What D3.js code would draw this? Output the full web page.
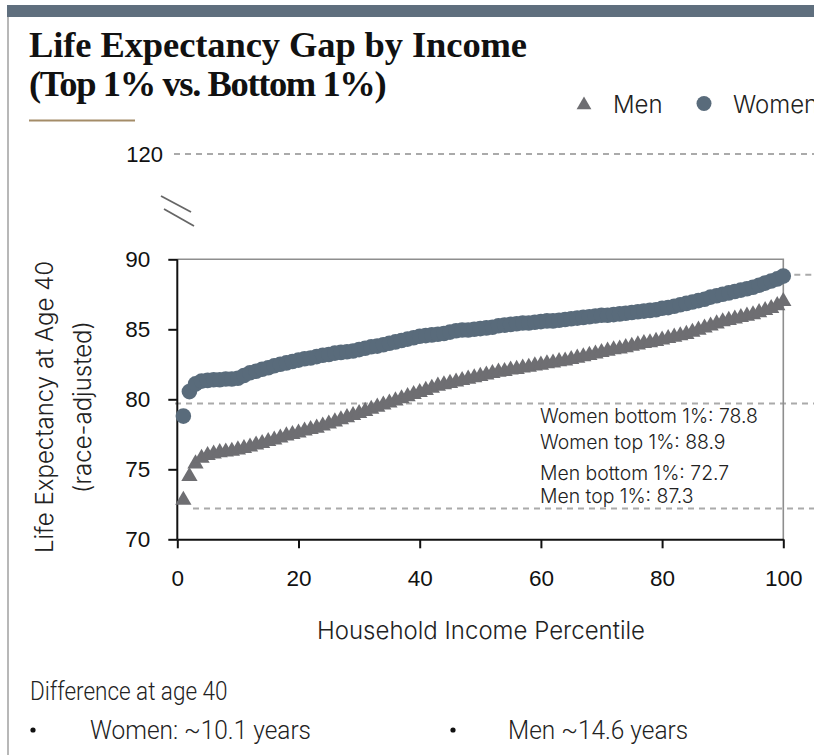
<!DOCTYPE html>
<html>
<head>
<meta charset="utf-8">
<script src="https://cdn.jsdelivr.net/npm/d3@7"></script>
<style>
  body { margin: 0; background: #fff; }
  svg { display: block; }
  .lbl { font-family: Inter, "Liberation Sans", sans-serif; font-weight: 300; fill: #222; }
  .sum { font-family: Roboto, "Liberation Sans", sans-serif; font-weight: 300; fill: #222; }
  .num { font-family: "Liberation Sans", Arial, sans-serif; fill: #111; }
</style>
</head>
<body>
<div id="plot"></div>
<script>
// chart data
const percentiles = d3.range(1, 101);

const women = [
  78.8, 80.55, 81.1, 81.3, 81.35, 81.4, 81.4, 81.45, 81.45, 81.5,
  81.7, 81.9, 82.0, 82.15, 82.25, 82.4, 82.5, 82.6, 82.7, 82.8,
  82.9, 82.95, 83.05, 83.15, 83.2, 83.3, 83.35, 83.4, 83.45, 83.55,
  83.65, 83.75, 83.8, 83.9, 84.0, 84.1, 84.2, 84.3, 84.4, 84.5,
  84.55, 84.6, 84.65, 84.7, 84.8, 84.9, 84.95, 84.95, 85.0, 85.05,
  85.1, 85.15, 85.25, 85.3, 85.35, 85.4, 85.45, 85.45, 85.5, 85.55,
  85.6, 85.6, 85.65, 85.7, 85.75, 85.8, 85.85, 85.9, 85.95, 86.0,
  86.0, 86.05, 86.1, 86.15, 86.2, 86.25, 86.3, 86.35, 86.4, 86.5,
  86.55, 86.65, 86.75, 86.85, 86.95, 87.05, 87.15, 87.3, 87.4, 87.5,
  87.6, 87.7, 87.8, 87.9, 88.0, 88.15, 88.3, 88.45, 88.6, 88.8
];

const men = [
  72.8, 74.5, 75.4, 75.8, 76.0, 76.1, 76.2, 76.25, 76.3, 76.4,
  76.5, 76.6, 76.75, 76.85, 77.0, 77.1, 77.25, 77.4, 77.5, 77.6,
  77.75, 77.85, 77.95, 78.1, 78.25, 78.4, 78.55, 78.7, 78.85, 79.0,
  79.15, 79.3, 79.45, 79.6, 79.75, 79.9, 80.05, 80.2, 80.35, 80.5,
  80.65, 80.8, 80.95, 81.05, 81.15, 81.25, 81.35, 81.45, 81.55, 81.65,
  81.75, 81.85, 81.95, 82.0, 82.1, 82.15, 82.25, 82.3, 82.4, 82.45,
  82.55, 82.6, 82.7, 82.75, 82.85, 82.95, 83.05, 83.15, 83.25, 83.35,
  83.45, 83.55, 83.6, 83.7, 83.8, 83.9, 84.0, 84.05, 84.15, 84.25,
  84.35, 84.45, 84.55, 84.65, 84.8, 84.95, 85.1, 85.25, 85.4, 85.55,
  85.65, 85.75, 85.85, 85.95, 86.05, 86.2, 86.35, 86.5, 86.7, 87.0
];

const yTicks = [70, 75, 80, 85, 90];
const xTicks = [0, 20, 40, 60, 80, 100];
const breakTick = 120;
const refLines = [79.7, 72.2];
const topRef = 88.9;
const notes = ["Women bottom 1%: 78.8", "Women top 1%: 88.9", "Men bottom 1%: 72.7", "Men top 1%: 87.3"];

const W = 814, H = 755;
const pLeft = 177.3, pRight = 783.3, pTop = 259.3, pBottom = 539.3;

const svg = d3.select("#plot").append("svg")
  .attr("width", W).attr("height", H);

svg.append("rect").attr("width", W).attr("height", H).attr("fill", "#fff");

// top bar + left border
svg.append("rect").attr("x", 7).attr("y", 5).attr("width", W - 7).attr("height", 12).attr("fill", "#5f6f7e");
svg.append("line").attr("x1", 8).attr("x2", 8).attr("y1", 17).attr("y2", H)
  .attr("stroke", "#b8b8b8").attr("stroke-width", 2);

// title
const title = svg.append("text")
  .attr("font-family", "'Liberation Serif', 'Times New Roman', serif")
  .attr("font-weight", "bold").attr("font-size", 36.5).attr("fill", "#111");
title.append("tspan").attr("x", 29).attr("y", 57).attr("letter-spacing", -0.1).text("Life Expectancy Gap by Income");
title.append("tspan").attr("x", 29).attr("y", 96).attr("letter-spacing", -1.4).text("(Top 1% vs. Bottom 1%)");
svg.append("line").attr("x1", 29).attr("x2", 135).attr("y1", 120.5).attr("y2", 120.5)
  .attr("stroke", "#a48c68").attr("stroke-width", 2);

// scales (piecewise y for the axis break up to 120)
const x = d3.scaleLinear().domain([0, 100]).range([pLeft, pRight]);
const y = d3.scaleLinear().domain([70, 90, 120]).range([pBottom, pTop, 154]);

// dashed reference lines
const dash = "6,5";
svg.append("line").attr("x1", 174).attr("x2", W)
  .attr("y1", y(breakTick)).attr("y2", y(breakTick))
  .attr("stroke", "#aaa").attr("stroke-width", 2).attr("stroke-dasharray", dash);
svg.selectAll(".ref").data(refLines).enter().append("line")
  .attr("class", "ref")
  .attr("x1", (d, i) => i === 0 ? 175 : 193).attr("x2", W)
  .attr("y1", d => y(d)).attr("y2", d => y(d))
  .attr("stroke", "#aaa").attr("stroke-width", 2).attr("stroke-dasharray", dash);
svg.append("line").attr("x1", pRight).attr("x2", W)
  .attr("y1", y(topRef)).attr("y2", y(topRef))
  .attr("stroke", "#aaa").attr("stroke-width", 2).attr("stroke-dasharray", dash);

// frame (top / right)
svg.append("path")
  .attr("d", `M${pLeft},${pTop}H${pRight}V${pBottom}`)
  .attr("fill", "none").attr("stroke", "#8e8e8e").attr("stroke-width", 1.6);

// axes
const yAxis = svg.append("g")
  .attr("transform", `translate(${pLeft},0)`)
  .call(d3.axisLeft(y).tickValues(yTicks).tickSize(9).tickSizeOuter(0).tickPadding(18));
yAxis.select(".domain").attr("d", `M0,${pTop}V${pBottom}`);
const xAxis = svg.append("g")
  .attr("transform", `translate(0,${pBottom})`)
  .call(d3.axisBottom(x).tickValues(xTicks).tickSize(9).tickSizeOuter(0).tickPadding(22));
[yAxis, xAxis].forEach(g => {
  g.select(".domain").attr("stroke", "#111").attr("stroke-width", 2);
  g.selectAll(".tick line").attr("stroke", "#111").attr("stroke-width", 2);
  g.selectAll(".tick text").attr("class", "num").attr("font-size", 22.5)
    .attr("fill", "#111");
});

// 120 label + break marks
svg.append("text").attr("class", "num").attr("x", 163).attr("y", y(breakTick))
  .attr("dy", "0.36em").attr("text-anchor", "end").attr("font-size", 22)
  .attr("fill", "#333").text(breakTick);
[[161, 196, 191, 212], [164, 209, 194, 226]].forEach(s => {
  svg.append("line").attr("x1", s[0]).attr("y1", s[1]).attr("x2", s[2]).attr("y2", s[3])
    .attr("stroke", "#666").attr("stroke-width", 1.8);
});

// marks
const womenColor = "#596b7b", menColor = "#6e6e72";
const tri = d3.symbol().type(d3.symbolTriangle).size(115);
svg.append("g").selectAll("path")
  .data(percentiles.map((p, i) => [p, men[i]]))
  .enter().append("path")
  .attr("d", tri)
  .attr("transform", d => `translate(${x(d[0])},${y(d[1])})`)
  .attr("fill", menColor);
svg.append("g").selectAll("circle")
  .data(percentiles.map((p, i) => [p, women[i]]))
  .enter().append("circle")
  .attr("cx", d => x(d[0])).attr("cy", d => y(d[1])).attr("r", 7.8)
  .attr("fill", womenColor);

// axis titles
svg.append("text").attr("class", "lbl").attr("x", 481).attr("y", 639)
  .attr("text-anchor", "middle").attr("font-size", 24).text("Household Income Percentile");
const yt = svg.append("text").attr("class", "lbl").attr("font-size", 24)
  .attr("text-anchor", "middle").attr("transform", "translate(0,407) rotate(-90)");
yt.append("tspan").attr("x", 0).attr("y", 53).text("Life Expectancy at Age 40");
yt.append("tspan").attr("x", 0).attr("y", 91).text("(race-adjusted)");

// legend
svg.append("path").attr("d", d3.symbol().type(d3.symbolTriangle).size(95))
  .attr("transform", "translate(584,105)").attr("fill", menColor);
svg.append("text").attr("class", "lbl").attr("x", 613).attr("y", 113)
  .attr("font-size", 24).text("Men");
svg.append("circle").attr("cx", 704).attr("cy", 103.5).attr("r", 7.5).attr("fill", womenColor);
svg.append("text").attr("class", "lbl").attr("x", 733).attr("y", 113)
  .attr("font-size", 24).text("Women");

// annotations
const noteY = [423, 449, 480, 503];
svg.selectAll(".note").data(notes).enter().append("text")
  .attr("class", "lbl note").attr("x", 540).attr("y", (d, i) => noteY[i])
  .attr("font-size", 19.4).text(d => d);

// bottom summary (narrow, tall lettering)
svg.append("text").attr("class", "sum")
  .attr("transform", "translate(30,700) scale(0.9,1)")
  .attr("font-size", 25).attr("font-weight", 400).text("Difference at age 40");
const bullets = [[33, 90, "Women: ~10.1 years"], [453, 508, "Men ~14.6 years"]];
bullets.forEach(b => {
  svg.append("circle").attr("cx", b[0]).attr("cy", 730).attr("r", 2.6).attr("fill", "#111");
  svg.append("text").attr("class", "sum")
    .attr("transform", `translate(${b[1]},739) scale(0.94,1)`)
    .attr("font-size", 26).text(b[2]);
});
</script>
</body>
</html>
